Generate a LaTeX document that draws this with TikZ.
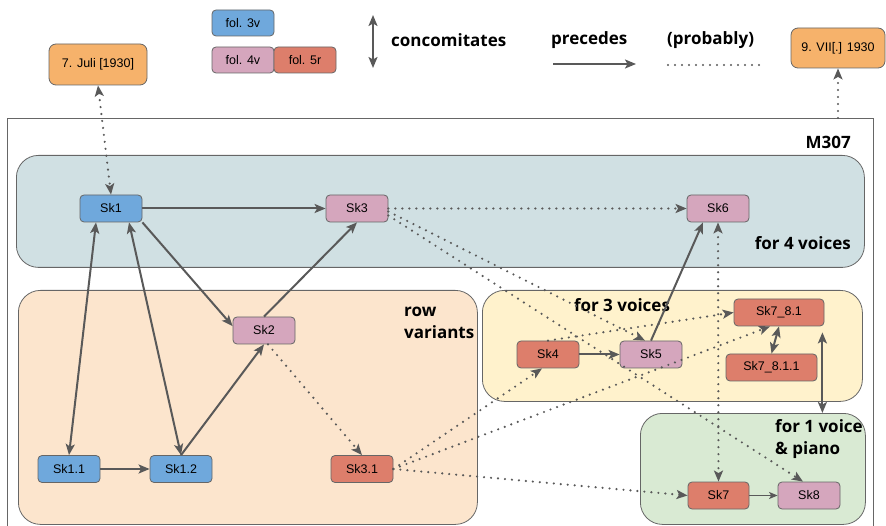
\documentclass[tikz,border=0pt]{standalone}
\usepackage{fontspec}
\setmainfont{Liberation Sans}
\newfontfamily\labelfont{Open Sans}
\usetikzlibrary{arrows.meta,calc}

\definecolor{fblue}{HTML}{6FA8DC}
\definecolor{fpink}{HTML}{D5A6BD}
\definecolor{fred}{HTML}{DD7E6B}
\definecolor{forange}{HTML}{F6B26B}
\definecolor{gteal}{HTML}{D0E0E3}
\definecolor{gpeach}{HTML}{FCE5CD}
\definecolor{gyellow}{HTML}{FFF2CC}
\definecolor{ggreen}{HTML}{D9EAD3}
\definecolor{edgegray}{HTML}{666666}
\definecolor{arrowgray}{HTML}{595959}

\tikzset{
  sk/.style={draw=edgegray, line width=0.8pt, rounded corners=4pt,
    minimum width=62pt, minimum height=27pt, inner sep=0pt,
    font=\fontsize{12.5}{14}\selectfont},
  datebox/.style={sk, rounded corners=7pt},
  fol3v/.style={fill=fblue},
  fol4v/.style={fill=fpink},
  fol5r/.style={fill=fred},
  group/.style={draw=edgegray, line width=0.8pt, rounded corners=22pt,
    anchor=north west, inner sep=0pt},
  lbl/.style={font=\labelfont\bfseries\fontsize{17}{22}\selectfont,
    inner sep=0pt, text=black},
  tip/.tip={Stealth[length=11pt,width=9pt,inset=2.5pt]},
  precede/.style={draw=arrowgray, line width=2pt, -tip},
  concom/.style={draw=arrowgray, line width=2pt, tip-tip},
  maybe/.style={draw=arrowgray, line width=2.4pt, line cap=round,
    dash pattern=on 0pt off 7pt},
}

\begin{document}
\begin{tikzpicture}[x=1pt,y=-1pt]
\useasboundingbox (0,0) rectangle (886,526);

% manuscript frame
\draw[edgegray, line width=0.9pt] (7,530) -- (7,118) -- (873,118) -- (873,530);
\node[lbl, anchor=east] (m307) at (851,142) {M307};

% groups
\node[group, fill=gteal, minimum width=848pt, minimum height=112pt] (g4) at (16,155) {};
\node[group, fill=gpeach, minimum width=459pt, minimum height=234pt] (grow) at (18,290) {};
\node[group, fill=gyellow, minimum width=380pt, minimum height=111pt] (g3) at (482,290) {};
\node[group, fill=ggreen, minimum width=225pt, minimum height=111pt] (g1) at (640,413) {};

\node[lbl, anchor=east] (l4) at (851,243) {for 4 voices};
\node[lbl, anchor=north west, align=left] (lrow) at (404,307) {row\\variants};
\node[lbl] (l3) at (622,305) {for 3 voices};
\node[lbl, anchor=north west, align=left] (l1) at (775,419) {for 1 voice\\\& piano};

% legend
\node[sk, fol3v, minimum height=26pt] (leg3v) at (243,23) {fol. 3v};
\node[sk, fol4v, minimum height=26pt] (leg4v) at (243,60) {fol. 4v};
\node[sk, fol5r, minimum height=26pt] (leg5r) at (305,60) {fol. 5r};
\coordinate (ca) at (373,15);
\coordinate (cb) at (373,68);
\draw[concom] (ca) -- (cb);
\node[lbl, anchor=west] (tconcom) at (391,40) {concomitates};
\node[lbl, anchor=west] (tprec) at (551,40) {precedes};
\coordinate (pa) at (553,64);
\coordinate (pb) at (636,64);
\draw[precede] (pa) -- (pb);
\node[lbl, anchor=west] (tprob) at (667,40) {(probably)};
\coordinate (da) at (668,65);
\coordinate (db) at (766,65);
\draw[maybe] (da) -- (db);

% dates
\node[datebox, fill=forange, minimum width=98pt, minimum height=41pt] (juli) at (98,64.5) {7. Juli [1930]};
\node[datebox, fill=forange, minimum width=94pt, minimum height=40pt] (vii) at (838,48) {9. VII[.] 1930};
\coordinate (frametop) at (838,118);

% sketches
\node[sk, fol3v] (sk1) at (111,208.5) {Sk1};
\node[sk, fol4v] (sk3) at (357,208.5) {Sk3};
\node[sk, fol4v] (sk6) at (718,208.5) {Sk6};
\node[sk, fol4v] (sk2) at (264,330.5) {Sk2};
\node[sk, fol3v] (sk11) at (69,469) {Sk1.1};
\node[sk, fol3v] (sk12) at (181,469) {Sk1.2};
\node[sk, fol5r] (sk31) at (362,469) {Sk3.1};
\node[sk, fol5r] (sk4) at (548,354.5) {Sk4};
\node[sk, fol4v] (sk5) at (651,354.5) {Sk5};
\node[sk, fol5r, minimum width=90pt] (sk781) at (779,312.5) {Sk7\_8.1};
\node[sk, fol5r, minimum width=91pt] (sk7811) at (771.5,367.5) {Sk7\_8.1.1};
\node[sk, fol5r, minimum width=61pt] (sk7) at (718.5,495.5) {Sk7};
\node[sk, fol4v] (sk8) at (809,495.5) {Sk8};

% probable relations
\draw[maybe, tip-tip] (juli.south) -- (sk1.north);
\draw[maybe, -tip] (frametop) -- (vii.south);
\draw[maybe, -tip] (sk3.east) -- (sk6.west);
\draw[maybe, -tip] ([yshift=-3pt]sk3.east) -- ([xshift=-6pt]sk5.north);
\draw[maybe, -tip] ([yshift=-7pt]sk3.east) -- ([xshift=-6pt]sk8.north);
\draw[maybe, -tip] ([xshift=4pt]sk2.south) -- (sk31.north);
\draw[maybe, -tip] (sk31.east) -- ([xshift=-6pt]sk4.south);
\draw[maybe, -tip] (sk31.east) -- ([xshift=-9pt]sk781.south);
\draw[maybe, -tip] (sk31.east) -- (sk7.west);
\draw[maybe, -tip] (sk4.north) -- (sk781.west);
\draw[maybe, tip-tip] (sk6.south) -- (sk7.north);

% certain relations
\draw[precede] (sk1.east) -- (sk3.west);
\draw[precede] (sk1.south east) -- (sk2.172);
\draw[concom] ([xshift=-15pt]sk1.south) -- (sk11.north);
\draw[concom] ([xshift=18pt]sk1.south) -- (sk12.north);
\draw[precede] (sk11.east) -- (sk12.west);
\draw[precede] (sk12.north) -- (sk2.south);
\draw[precede] (sk2.north) -- (sk3.south);
\draw[precede] (sk4.east) -- (sk5.west);
\draw[precede] (sk5.north) -- ([xshift=-15pt]sk6.south);
\draw[concom] (sk781.south) -- (sk7811.north);
\coordinate (v1) at ($(sk781.south east)+(-2,6)$);
\draw[concom] (v1) -- (v1 |- g1.north);
\draw[draw=arrowgray, line width=1.2pt, -{Stealth[length=8.5pt,width=7pt,inset=2pt]}] (sk7.east) -- (sk8.west);
\end{tikzpicture}
\end{document}
